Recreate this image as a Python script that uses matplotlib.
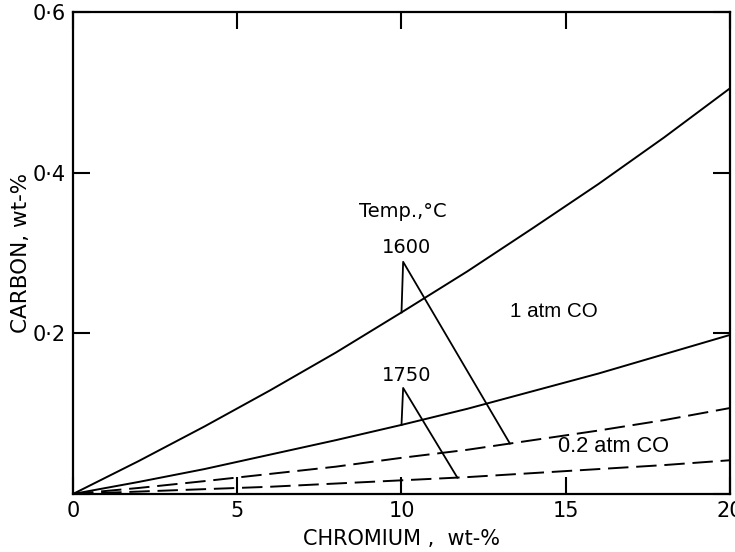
import numpy as np
import matplotlib
matplotlib.use("Agg")
import matplotlib.pyplot as plt

# Carbon in equilibrium with CO vs chromium content
chromium = [0, 2, 4, 6, 8, 10, 12, 14, 16, 18, 20]
c_1600_1atm = [0, 0.041, 0.084, 0.129, 0.176, 0.226, 0.277, 0.331, 0.386, 0.444, 0.505]
c_1750_1atm = [0, 0.015, 0.031, 0.049, 0.067, 0.086, 0.106, 0.128, 0.150, 0.174, 0.198]
c_1600_02atm = [0, 0.0075, 0.016, 0.025, 0.034, 0.045, 0.055, 0.067, 0.079, 0.092, 0.107]
c_1750_02atm = [0, 0.003, 0.006, 0.009, 0.013, 0.017, 0.021, 0.026, 0.031, 0.036, 0.042]

x_ticks = [0, 5, 10, 15, 20]
x_ticklabels = ["0", "5", "10", "15", "20"]
y_ticks = [0, 0.2, 0.4, 0.6]
y_ticklabels = ["", "0\u00b72", "0\u00b74", "0\u00b76"]

# callout geometry: label, apex, foot on solid curve, end on dashed curve
callouts = [
    ("1600", 10.05, 0.289, 10.0, c_1600_1atm, 13.3, c_1600_02atm, 0.307),
    ("1750", 10.05, 0.132, 10.0, c_1750_1atm, 11.7, c_1750_02atm, 0.147),
]

fig = plt.figure(figsize=(7.35, 5.52), dpi=100)
ax = fig.add_axes([0.0993, 0.1051, 0.8939, 0.8732])

lw = 1.4
ax.plot(chromium, c_1600_1atm, color="black", lw=lw)
ax.plot(chromium, c_1750_1atm, color="black", lw=lw)
ax.plot(chromium, c_1600_02atm, color="black", lw=lw, dashes=(10.5, 4))
ax.plot(chromium, c_1750_02atm, color="black", lw=lw, dashes=(10.5, 4))

for label, ax_x, ax_y, foot_x, solid, end_x, dashed, text_y in callouts:
    foot_y = np.interp(foot_x, chromium, solid)
    end_y = np.interp(end_x, chromium, dashed)
    ax.plot([foot_x, ax_x, end_x], [foot_y, ax_y, end_y], color="black", lw=1.3)
    ax.text(10.15, text_y, label, ha="center", va="center", fontsize=14)

ax.text(10.05, 0.352, "Temp.,\u00b0C", ha="center", va="center", fontsize=14)
ax.text(14.65, 0.227, "1 atm CO", ha="center", va="center", fontsize=14.8,
        family="Liberation Sans")
ax.text(16.45, 0.059, "0.2 atm CO", ha="center", va="center", fontsize=15.7,
        family="Liberation Sans")

ax.set_xlim(0, 20)
ax.set_ylim(0, 0.6)
ax.set_xticks(x_ticks)
ax.set_xticklabels(x_ticklabels)
ax.set_yticks(y_ticks)
ax.set_yticklabels(y_ticklabels)
ax.tick_params(direction="in", length=12, width=1.5, labelsize=15,
               top=True, right=True, pad=5)
for side in ax.spines.values():
    side.set_linewidth(1.6)

ax.set_xlabel("CHROMIUM ,  wt-%", fontsize=15, labelpad=6)
ax.set_ylabel("CARBON, wt-%", fontsize=15.5, labelpad=1)

fig.savefig("out.png", dpi=100)
